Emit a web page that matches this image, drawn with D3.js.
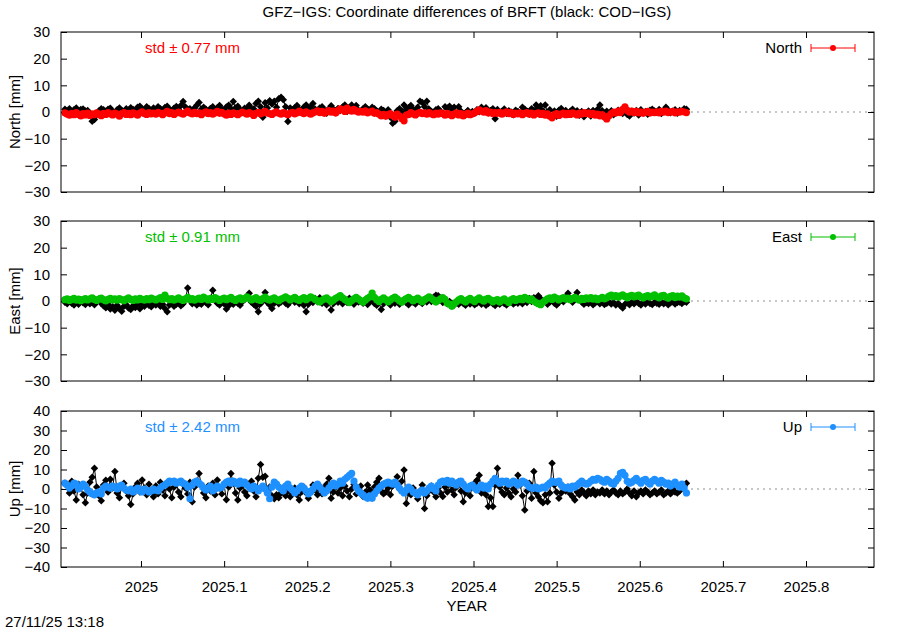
<!DOCTYPE html>
<html>
<head>
<meta charset="utf-8">
<script src="https://cdn.jsdelivr.net/npm/d3@7"></script>
<style>
  html, body { margin: 0; padding: 0; background: #fff; }
  svg { display: block; font-family: "Liberation Sans", Arial, Helvetica, sans-serif; }
</style>
</head>
<body>
<svg id="chart" width="900" height="630"></svg>
<script>
// ---------------- DATA ----------------
const startDate = [2024, 10, 28]; // first daily solution (UTC y, m0, d)
const xTickValues = [2025, 2025.1, 2025.2, 2025.3, 2025.4, 2025.5, 2025.6, 2025.7, 2025.8];
const yTicksNE = [-30, -20, -10, 0, 10, 20, 30];
const yTicksUp = [-40, -30, -20, -10, 0, 10, 20, 30, 40];
const seriesNames = ["North", "East", "Up"];
const stdLabels = ["std \u00b1 0.77 mm", "std \u00b1 0.91 mm", "std \u00b1 2.42 mm"];

// North: COD-IGS (black) and GFZ-IGS (red)
const northCOD = [
 1.0, 0.5, 1.2, 0.3, 0.8, 1.5, 0.2, 0.9, 1.1, 0.4,
 0.6, -1.0, -3.5, -2.8, -1.0, 0.5, 1.2, 0.8, 0.3, 1.0,
 1.4, 0.2, -0.5, 0.8, 1.5, 0.6, 0.1, 1.2, 0.7, 1.6,
 0.9, 0.4, 1.8, 2.2, 1.1, 0.6, 2.0, 1.3, 0.5, 1.5,
 0.8, 2.0, 1.2, 0.5, 1.7, 2.2, 1.0, 0.3, 1.4, 2.1,
 0.9, 2.4, 3.9, 1.9, 1.0, 1.2, 0.7, 1.5, 2.5, 3.6,
 1.0, 1.8, 1.0, 0.2, 1.3, 2.0, 0.8, 1.6, 2.4, 1.0,
 0.6, 1.9, 2.5, 1.2, 3.9, 1.5, 2.2, 0.9, 0.3, 1.4,
 1.0, 2.5, 1.2, 1.1, 3.2, 4.0, 2.0, -2.0, 3.5, 1.5,
 4.2, 3.0, 4.0, 1.8, 5.0, 5.5, 4.6, 2.0, -3.6, 1.5,
 0.8, 1.6, 2.4, 1.0, 0.3, 1.8, 2.6, 1.2, 2.0, 3.2,
 1.0, 0.5, 1.5, 2.0, 0.8, -0.5, 1.2, 2.3, 1.0, 0.4,
 1.3, 0.6, 1.9, 2.6, 0.2, 1.6, 2.6, 0.9, 2.4, 0.7,
 0.3, 1.2, 2.0, 1.0, 0.5, 1.8, 1.2, 0.4, -0.8, 1.0,
 0.6, -1.5, 0.8, -2.0, -4.2, -3.5, 0.5, 1.2, 0.0, 2.6,
 0.9, 1.6, 2.4, 1.0, 0.5, 1.8, 4.0, 3.6, 2.0, 4.0,
 1.0, 0.2, -0.5, 0.8, 1.2, 0.3, -0.6, 2.0, 1.5, 2.2,
 0.4, 1.8, -0.5, 2.0, 0.3, -1.2, -0.4, 0.6, -0.9, 0.2,
 -0.5, 0.8, 0.1, 1.8, 0.5, 1.6, -0.3, 0.6, 1.2, -2.5,
 0.9, -0.4, 0.3, 1.1, -0.6, 0.5, 0.0, -1.0, 0.7, 0.2,
 -0.5, 1.8, 1.0, 0.3, -0.8, 1.2, 0.6, 2.6, 1.2, 2.3,
 0.5, 2.6, -0.2, 0.8, -2.0, 0.4, -1.6, 0.7, 1.3, 0.1,
 0.6, -0.9, 0.3, 1.0, -0.4, 0.5, -1.2, 0.2, -1.8, -0.3,
 0.4, -1.5, 0.6, 0.0, 1.0, 2.6, 0.5, -0.5, 0.3, -1.0,
 0.5, -1.0, -0.3, 0.7, 0.2, -0.6, 0.4, -0.9, -1.5, 0.3,
 -0.4, 0.6, -1.1, 0.8, -0.2, 0.2, -0.8, 0.7, 1.0, 0.4,
 -0.2, 0.9, -0.6, 0.5, 1.8, 0.7, -0.3, 0.3, 0.8, -0.5,
 0.6, 0.3, 1.2, 1.0
];
const northGFZ = [
 -0.3, -0.8, -1.2, -0.5, -1.0, -0.2, -0.9, -1.5, -0.6, -1.1,
 -0.4, -1.3, -0.7, -1.0, -0.3, -0.8, -1.4, -0.5, -0.9, -0.2,
 -0.7, -1.1, -0.4, -0.8, -1.6, -0.6, -0.2, -0.9, -0.5, -1.0,
 -0.3, -0.7, -1.2, -0.4, 0.1, -0.6, -0.9, -0.2, -0.7, -0.4,
 -0.8, -0.1, -0.5, -1.0, -0.3, 0.2, -0.6, -0.2, -0.9, -0.4,
 0.0, -0.5, -0.8, -0.2, 0.3, -0.4, -0.7, -0.1, -0.6, -0.3,
 -1.0, -0.4, 0.1, -0.6, -0.2, -0.8, -0.3, 0.2, -0.5, -0.1,
 -0.7, -1.2, -0.4, -0.9, -0.3, -0.6, -1.0, -0.5, 0.0, -0.4,
 -0.8, -0.2, -0.6, -1.3, -0.5, -0.1, -0.7, -0.3, 0.2, -0.4,
 -0.6, -0.9, -0.3, 0.1, -0.5, -0.8, -0.2, -0.6, -1.0, -0.4,
 -0.1, -0.7, -0.3, 0.3, -0.2, -0.6, 0.1, -0.4, -0.8, -0.3,
 0.0, 0.4, -0.2, 0.2, -0.5, 0.1, 0.5, -0.1, 0.3, -0.4,
 0.5, 1.2, 0.8, 0.2, 1.5, 0.7, 0.3, 1.0, 0.4, -0.1,
 0.2, -0.1, 0.4, -0.3, 0.0, 0.3, -0.5, -0.2, -0.8, -1.5,
 -0.9, -1.6, -1.0, -0.6, -1.3, -2.0, -0.8, -1.5, -2.4, -3.3,
 -1.2, -0.9, -0.2, -0.7, -1.1, -0.5, -0.1, -0.6, -0.3, -0.8,
 -0.2, -0.7, -1.0, -0.4, -0.8, -0.3, -0.6, -1.2, -0.5, -0.9,
 -1.4, -0.8, -0.3, -1.1, -0.6, -1.5, -0.9, -0.4, -1.0, -0.7,
 -0.3, 0.2, 0.8, 0.3, -0.1, 0.5, -0.4, 0.0, -0.6, -0.2,
 -0.5, -0.1, -0.8, -0.3, 0.1, -0.6, -0.2, -0.9, -0.4, -0.7,
 -0.3, -1.0, -0.5, -0.2, -0.8, -0.4, -1.1, -0.6, -0.3, -0.9,
 -0.5, -1.2, -0.7, -1.6, -2.2, -1.0, -0.6, -1.3, -0.8, -0.4,
 -1.0, -0.5, -0.9, -0.3, -0.7, -1.1, -0.4, -0.8, -0.2, -0.6,
 -0.3, -0.9, -0.5, -1.2, -0.8, -1.5, -1.0, -1.8, -2.6, -1.4,
 -0.6, 0.0, -0.4, 0.3, -0.2, 1.0, 1.9, 0.6, -0.1, 0.3,
 -0.2, 0.2, -0.3, 0.1, -0.5, -0.1, 0.2, -0.4, 0.0, -0.2,
 0.1, -0.3, 0.2, -0.1, 0.3, -0.2, 0.0, 0.2, -0.3, 0.1,
 -0.1, 0.2, 0.0, -0.2
];

// East: COD-IGS (black) and GFZ-IGS (green)
const eastCOD = [
 -0.5, -1.0, 0.2, -0.8, -1.5, -0.3, -1.2, 0.5, -0.7, -1.3,
 -0.2, -1.0, -0.6, -1.4, -0.4, 0.8, -0.9, -1.8, -2.5, -1.2,
 -3.0, -2.2, -3.5, -1.6, -2.8, -3.8, -2.0, -1.4, -2.6, -3.2,
 -1.8, -2.4, -1.0, -2.9, -1.5, -2.0, -0.8, -1.6, -2.2, -1.0,
 -1.5, -0.6, -2.0, -1.2, -2.8, -4.0, -1.5, -0.8, -2.0, -1.2,
 -0.5, -1.8, -1.0, 0.5, 4.9, 0.2, -1.0, -0.4, -1.5, -0.8,
 -1.2, 0.3, -0.6, -1.4, 1.0, 4.0, 0.5, -0.8, -1.5, -0.4,
 -1.0, -3.0, -1.8, -0.5, -1.2, 0.2, -0.8, -1.6, -0.3, 0.6,
 1.2, 2.9, -0.5, -1.2, -2.0, -4.0, -1.0, 0.5, 3.2, -0.6,
 -1.5, -2.8, -0.8, 0.2, -1.0, -0.4, 0.5, -0.8, -1.4, -0.2,
 0.6, -0.5, 0.8, -1.0, 0.3, -1.6, -4.0, -1.2, 0.4, -0.6,
 0.9, -0.3, 1.2, -0.8, 0.5, -1.4, -0.2, -3.4, -0.9, 0.3,
 -0.5, 0.8, -1.0, 0.4, -0.6, 1.0, -0.2, -1.2, 0.6, -0.4,
 0.2, -0.8, 0.5, -1.3, -0.3, 0.7, -0.9, -1.6, -0.5, -3.2,
 -1.0, 0.4, -0.6, -1.5, 0.3, -0.8, 0.6, -1.2, -0.2, 0.5,
 -0.7, -1.4, 0.2, -0.5, -1.1, 0.4, -0.3, -0.9, 0.6, -0.4,
 0.8, -0.2, 1.4, 2.2, 2.0, 0.5, -0.6, 0.3, -1.0, -0.2,
 -0.8, -1.5, -0.5, -1.2, -0.3, -0.9, -1.6, -0.4, -1.1, -0.6,
 -1.4, -0.8, -0.2, -1.2, -0.5, -1.6, -0.9, -0.3, -1.0, -1.7,
 -0.6, -1.2, -0.4, -0.9, -1.5, -0.7, -0.2, -1.1, -0.5, -0.8,
 -0.3, -1.0, 0.4, -0.6, 0.9, -0.2, 1.2, 0.5, 2.0, 0.8,
 -0.5, 0.3, -1.2, -0.4, 0.2, -0.8, -1.5, -0.6, 0.4, -0.3,
 1.5, 2.9, 0.8, -0.5, 1.6, 3.2, 0.6, -0.4, -1.2, -0.6,
 -0.9, -0.3, -1.4, -0.7, -0.2, -1.0, -0.5, -1.3, -0.8, -0.4,
 -1.1, -0.6, -1.5, -0.9, -1.8, -2.6, -1.2, -0.7, -1.4, -0.5,
 -1.0, -0.3, -0.8, -1.5, -0.6, -1.1, -0.4, -0.9, -1.3, -0.5,
 -0.8, -1.2, -0.4, -1.0, -0.6, -1.4, -0.7, -0.3, -1.1, -0.6,
 -0.4, -0.9, -0.2, -0.5
];
const eastGFZ = [
 0.5, 0.8, 0.2, 0.6, 1.0, 0.3, 0.7, 0.1, 0.5, 0.9,
 0.4, 0.8, 1.2, 0.6, 0.2, 0.7, 1.1, 0.5, 0.0, 0.6,
 1.0, 0.4, 0.8, 0.3, 0.9, 0.5, 0.1, 0.7, 1.2, 0.6,
 0.2, 0.8, 0.4, 1.0, 0.6, 0.3, 0.9, 0.5, 1.1, 0.7,
 0.4, 0.8, 1.3, 0.6, 2.2, 1.0, 0.5, 0.9, 0.3, 0.7,
 1.2, 0.6, 0.2, 0.8, 1.4, 0.5, 0.9, 0.3, 0.7, 1.1,
 0.6, 1.5, 0.9, 0.4, 1.0, 0.6, 1.3, 0.8, 0.2, 0.7,
 1.1, 0.5, 0.9, 1.4, 0.6, 0.2, 0.8, 1.2, 0.5, 0.9,
 1.6, 1.0, 0.4, 0.8, 1.3, 0.6, 0.2, 0.9, 1.5, 0.7,
 0.3, 0.8, 1.2, 0.5, 0.1, 0.7, 1.1, 1.6, 1.0, 0.4,
 0.9, 1.4, 0.6, 0.2, 0.8, 1.3, 0.5, 1.0, 1.6, 1.1,
 0.6, 0.1, -0.4, 0.3, 0.8, 1.2, 0.5, -0.2, 0.4, 1.0,
 1.5, 2.0, 1.2, 0.6, 0.0, -0.6, 0.2, 0.8, 1.4, 0.7,
 0.1, -0.5, 0.3, 1.0, 1.6, 3.0, 1.4, 0.5, -0.2, 0.6,
 1.2, 0.5, -0.3, 0.4, 1.0, 1.5, 0.8, 0.1, -0.5, 0.3,
 0.9, 1.4, 0.7, 0.0, 0.6, 1.1, 0.4, -0.3, 0.5, 1.0,
 1.6, 1.0, 0.3, -0.4, 0.2, 0.8, 1.3, 0.6, -0.8, -1.2,
 -2.0, -1.0, -0.3, 0.4, 0.9, 0.2, -0.4, 0.5, 1.0, 0.3,
 -0.2, 0.6, 1.2, 0.5, -0.1, 0.7, 1.0, 0.4, -0.3, 0.2,
 0.5, -0.4, 0.3, 0.8, 0.1, -0.6, 0.4, 0.9, 0.2, 0.6,
 1.0, 0.5, 1.4, 0.9, 0.3, 0.8, 0.0, -0.6, -1.0, -1.4,
 -0.5, 0.2, 0.8, 1.2, 0.6, 1.5, 1.0, 0.4, 0.9, 1.3,
 0.7, 1.1, 0.5, 0.9, 1.4, 0.8, 0.3, 1.0, 0.6, 1.2,
 0.8, 1.3, 0.7, 1.1, 0.5, 0.9, 1.4, 0.8, 1.2, 1.8,
 2.2, 1.6, 2.0, 1.4, 1.9, 2.3, 1.7, 1.2, 1.8, 2.1,
 1.5, 1.9, 2.2, 1.6, 1.1, 1.7, 2.0, 1.4, 1.8, 2.3,
 1.6, 1.2, 1.9, 2.1, 1.5, 1.0, 1.7, 2.0, 1.3, 1.8,
 1.4, 1.9, 1.2, 0.8
];

// Up: COD-IGS (black) and GFZ-IGS (blue)
const upCOD = [
 3.0, 1.5, -2.0, 4.0, -1.0, -5.6, 2.5, 0.5, -3.0, -7.0,
 -2.0, 3.5, 6.0, 10.6, 1.0, -3.5, -6.0, 2.0, 4.5, -1.5,
 5.0, 0.5, 9.0, -2.0, -4.5, 1.5, 3.0, -1.0, -3.5, -8.0,
 -2.5, 1.0, 3.0, -1.5, 4.6, 0.5, -3.0, 2.5, -1.0, -4.0,
 1.5, -2.5, 3.5, -0.5, -3.5, 2.0, 0.0, -4.5, 1.0, 3.0,
 -1.5, -4.0, 2.5, 0.5, -2.5, 3.5, -6.5, 1.0, 4.0, 8.0,
 2.0, -2.0, -4.5, 1.5, -1.0, 3.0, -3.0, 4.6, 0.5, -2.5,
 2.0, -5.5, 1.0, 8.0, 3.0, -2.0, -5.6, 0.5, 2.5, -1.5,
 -3.5, 1.5, 4.0, -1.0, -4.0, 5.5, 12.6, 6.0, 6.5, -2.0,
 1.0, -3.5, -5.0, -3.0, -4.5, -2.0, 0.5, -3.5, -1.0, -4.0,
 -2.5, 0.5, -3.0, -5.6, -1.5, 1.0, -2.0, -4.8, -1.0, 2.0,
 -0.5, -3.0, 1.5, -2.5, 0.5, 2.5, 5.5, -4.8, -1.5, 1.0,
 -2.0, 0.5, -3.5, 1.5, -1.0, -4.0, 0.0, 2.5, -2.5, -0.5,
 1.5, -3.8, -1.5, 2.0, -0.5, -3.0, 1.0, 3.5, 5.5, -1.0,
 -2.5, -1.5, 0.5, -3.0, 1.5, 3.0, 6.3, 0.0, 4.0, 9.7,
 -7.4, -2.0, -3.0, 0.5, -2.5, -5.0, -1.0, 2.0, -10.0, -3.5,
 -1.0, 1.5, -1.5, -4.0, 0.5, -2.0, -3.8, 1.0, -1.5, 2.5,
 -0.5, -3.0, 1.0, 3.8, -1.0, -6.5, -2.0, 0.5, -3.5, 1.5,
 3.0, 4.5, 7.0, -2.0, -1.0, -3.0, -9.0, -4.5, -9.0, 2.0,
 10.6, 1.0, -1.5, -3.0, 0.5, -2.0, -4.0, 0.0, -1.5, 7.0,
 2.0, -3.5, -10.8, -1.0, 3.0, -4.8, 9.0, -2.0, -4.0, -6.0,
 -7.0, -3.0, -6.5, -2.0, 13.2, 2.0, -1.5, -4.8, -2.0, 0.5,
 -1.0, 1.0, -2.5, -4.0, -5.6, -1.5, -3.0, -0.5, -2.0, -3.5,
 -1.0, -2.5, -0.5, -3.0, -1.5, -2.0, -0.5, -2.5, -1.0, -3.0,
 -1.5, -0.5, -2.0, -3.0, -1.0, -2.5, -1.5, 0.0, -2.0, -3.5,
 -1.0, -4.0, -2.0, -1.0, -2.5, -0.5, -1.5, -3.0, -2.0, -1.0,
 -2.5, -1.5, -0.5, -3.0, -2.0, -1.0, -2.5, 0.0, -1.5, -2.0,
 -1.0, 0.5, 1.5, 3.0
];
const upGFZ = [
 3.0, 2.0, 0.5, 1.5, 3.0, 2.5, 0.0, 1.0, 2.5, 1.5,
 -0.5, -1.5, -2.5, -3.0, -2.0, -1.5, -2.5, 0.5, 1.5, 1.0,
 0.5, 1.5, 1.0, 0.0, 1.5, 2.0, 0.5, -0.5, -1.0, 0.0,
 -1.5, -0.5, 0.5, -1.0, -1.5, 0.0, -0.5, -1.5, -1.0, 0.0,
 -0.5, -1.0, 0.5, 1.5, 2.0, 3.0, 4.0, 3.5, 4.0, 3.0,
 3.5, 4.0, 3.0, 2.5, 1.0, -5.0, 2.0, 3.5, 4.0, 3.0,
 2.0, 0.5, -0.5, 0.5, 1.5, -1.0, 0.0, 1.5, 0.5, 1.0,
 2.5, 3.5, 4.0, 3.0, 4.0, 3.5, 2.5, 4.0, 3.0, 3.5,
 2.0, 1.0, 0.0, 1.5, 0.5, -1.0, 0.5, 1.5, 0.0, -2.0,
 -5.0, 1.0, 3.5, 2.5, 1.0, 0.0, -1.0, 1.5, 2.5, 0.5,
 -0.5, -2.0, -1.0, 0.5, 1.5, 0.5, -1.0, -2.5, -1.5, 0.0,
 1.5, 2.5, 1.0, -0.5, -2.0, -1.0, 0.5, 2.0, 3.0, 1.5,
 2.5, 4.0, 3.0, 5.0, 6.0, 7.0, 8.0, 4.0, 1.0, -1.0,
 -2.0, -3.0, -4.0, -4.8, -3.5, -4.8, -2.5, -1.0, 0.5, 1.5,
 2.5, 3.0, 3.5, 3.0, 2.5, 3.5, 2.0, 0.5, -1.0, -2.0,
 -0.5, 1.0, 0.0, -1.5, -2.0, -3.0, -1.5, -0.5, -2.0, -1.0,
 0.5, 1.5, 0.0, -1.0, 2.0, 3.5, 4.0, 3.5, 4.5, 3.0,
 4.0, 3.0, 2.0, 3.5, 4.0, 2.5, 1.0, 0.0, 1.5, 2.0,
 0.5, -0.5, 1.0, 2.0, 0.5, 1.5, 0.0, 2.5, 4.0, 5.5,
 4.0, 3.0, 4.0, 3.5, 4.0, 2.5, 3.0, 4.0, 3.5, 2.0,
 3.0, 4.0, 3.5, 2.5, 1.0, 0.5, 0.5, 1.0, 0.0, 0.5,
 1.0, 0.5, 2.0, 3.0, 4.0, 3.5, 3.5, 4.0, 2.0, 1.0,
 0.5, 1.0, 0.0, 1.5, 1.0, 2.0, 3.0, 4.0, 3.0, 2.5,
 3.0, 4.0, 5.0, 4.5, 5.5, 5.0, 4.0, 3.5, 5.0, 4.0,
 3.0, 2.5, 4.0, 5.5, 8.0, 8.5, 7.0, 4.0, 3.0, 3.5,
 4.5, 5.5, 4.0, 3.0, 4.5, 5.0, 3.5, 2.5, 4.0, 5.0,
 4.0, 3.0, 4.5, 3.5, 2.5, 3.0, 1.5, 2.5, 3.5, 2.0,
 1.0, 2.5, 0.5, -2.0
];

// ---------------- LAYOUT ----------------
const W = 900, H = 630;
const left = 61, right = 874;
const FONT = 15;
const panels = [
  { name: seriesNames[0], top: 32,  bottom: 192, dom: [-30, 30], ticks: yTicksNE, cod: northCOD, gfz: northGFZ, color: "#ff0000", std: stdLabels[0] },
  { name: seriesNames[1], top: 221, bottom: 381, dom: [-30, 30], ticks: yTicksNE, cod: eastCOD,  gfz: eastGFZ,  color: "#00c000", std: stdLabels[1] },
  { name: seriesNames[2], top: 411, bottom: 567, dom: [-40, 40], ticks: yTicksUp, cod: upCOD,    gfz: upGFZ,    color: "#1e90ff", std: stdLabels[2] }
];

// decimal year for each daily solution (noon epoch)
function decYear(i) {
  const t = Date.UTC(startDate[0], startDate[1], startDate[2] + i);
  const d = new Date(t);
  const y = d.getUTCFullYear();
  const y0 = Date.UTC(y, 0, 1), y1 = Date.UTC(y + 1, 0, 1);
  return y + (t - y0 + 43200000) / (y1 - y0);
}

const x = d3.scaleLinear().domain([2024.90376, 2025.88180]).range([left, right]);
const fmtY = d => d < 0 ? "\u2212" + Math.abs(d) : String(d);
const fmtX = d => String(+d.toFixed(1));

const svg = d3.select("#chart");
svg.append("rect").attr("width", W).attr("height", H).attr("fill", "#fff");

// title
svg.append("text").attr("x", 467).attr("y", 17).attr("text-anchor", "middle")
  .attr("font-size", FONT).attr("fill", "#000")
  .text("GFZ\u2212IGS: Coordinate differences of BRFT (black: COD\u2212IGS)");

panels.forEach((p, pi) => {
  const y = d3.scaleLinear().domain(p.dom).range([p.bottom, p.top]);
  const g = svg.append("g");

  // zero line (dotted grey)
  g.append("line").attr("x1", left).attr("x2", right)
    .attr("y1", y(0)).attr("y2", y(0))
    .attr("stroke", "#909090").attr("stroke-width", 1).attr("stroke-dasharray", "2,4");

  // y axis left (inward ticks, labels)
  const ax = g.append("g").attr("transform", `translate(${left},0)`)
    .call(d3.axisLeft(y).tickValues(p.ticks).tickFormat(fmtY).tickSize(-6).tickPadding(11));
  ax.select(".domain").remove();
  ax.selectAll("text").attr("font-size", FONT).attr("font-family", "Liberation Sans, Arial, sans-serif").attr("fill", "#000");
  ax.selectAll("line").attr("stroke", "#000");

  // y axis right mirror ticks
  const axr = g.append("g").attr("transform", `translate(${right},0)`)
    .call(d3.axisRight(y).tickValues(p.ticks).tickFormat("").tickSize(-6));
  axr.select(".domain").remove();
  axr.selectAll("line").attr("stroke", "#000");

  // x axis bottom ticks (inward) and top mirror ticks
  const axb = g.append("g").attr("transform", `translate(0,${p.bottom})`)
    .call(d3.axisBottom(x).tickValues(xTickValues).tickFormat(pi === 2 ? fmtX : "").tickSize(-6).tickPadding(14));
  axb.select(".domain").remove();
  axb.selectAll("line").attr("stroke", "#000");
  axb.selectAll("text").attr("font-size", FONT).attr("font-family", "Liberation Sans, Arial, sans-serif").attr("fill", "#000");
  const axt = g.append("g").attr("transform", `translate(0,${p.top})`)
    .call(d3.axisTop(x).tickValues(xTickValues).tickFormat("").tickSize(-6));
  axt.select(".domain").remove();
  axt.selectAll("line").attr("stroke", "#000");

  // y-axis title
  g.append("text").attr("transform", `translate(20,${(p.top + p.bottom) / 2}) rotate(-90)`)
    .attr("text-anchor", "middle").attr("font-size", FONT).attr("fill", "#000")
    .text(`${p.name} [mm]`);

  const line = d3.line().x((d, i) => x(decYear(i))).y(d => y(d));

  // black COD series
  g.append("path").datum(p.cod).attr("d", line)
    .attr("fill", "none").attr("stroke", "#000").attr("stroke-width", 1);
  g.append("g").selectAll("path").data(p.cod).join("path")
    .attr("d", d3.symbol(d3.symbolSquare, 28)())
    .attr("transform", (d, i) => `translate(${x(decYear(i))},${y(d)}) rotate(45)`)
    .attr("fill", "#000");

  // coloured GFZ series
  g.append("path").datum(p.gfz).attr("d", line)
    .attr("fill", "none").attr("stroke", p.color).attr("stroke-width", 1);
  g.append("g").selectAll("circle").data(p.gfz).join("circle")
    .attr("cx", (d, i) => x(decYear(i))).attr("cy", d => y(d)).attr("r", 3.6)
    .attr("fill", p.color);

  // border
  g.append("rect").attr("x", left).attr("y", p.top)
    .attr("width", right - left).attr("height", p.bottom - p.top)
    .attr("fill", "none").attr("stroke", "#000").attr("stroke-width", 1);

  // std label
  g.append("text").attr("x", 145).attr("y", p.top + 21).attr("font-size", FONT)
    .attr("fill", p.color).text(p.std);

  // legend
  const ly = p.top + 16;
  g.append("text").attr("x", 802).attr("y", ly + 5).attr("text-anchor", "end")
    .attr("font-size", FONT).attr("fill", "#000").text(p.name);
  const lg = g.append("g").attr("stroke", p.color).attr("stroke-width", 1);
  lg.append("line").attr("x1", 811).attr("x2", 855).attr("y1", ly).attr("y2", ly);
  lg.append("line").attr("x1", 811).attr("x2", 811).attr("y1", ly - 4).attr("y2", ly + 4);
  lg.append("line").attr("x1", 855).attr("x2", 855).attr("y1", ly - 4).attr("y2", ly + 4);
  g.append("circle").attr("cx", 833).attr("cy", ly).attr("r", 3).attr("fill", p.color);
});

// x-axis title and timestamp
svg.append("text").attr("x", 467).attr("y", 611).attr("text-anchor", "middle")
  .attr("font-size", FONT).attr("fill", "#000").text("YEAR");
svg.append("text").attr("x", 5).attr("y", 627)
  .attr("font-size", FONT).attr("fill", "#000").text("27/11/25 13:18");
</script>
</body>
</html>
